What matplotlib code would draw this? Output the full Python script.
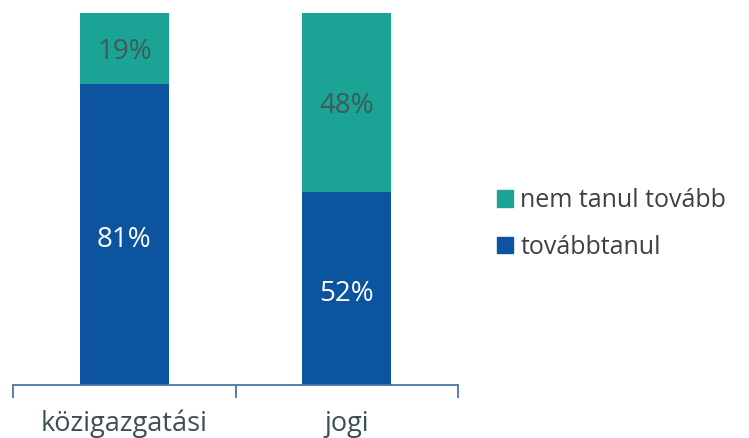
import matplotlib
matplotlib.use("Agg")
import matplotlib.pyplot as plt
from matplotlib.patches import Patch

categories = ["közigazgatási", "jogi"]
tovabbtanul = [81, 52]
nem_tanul = [19, 48]
series_names = ["nem tanul tovább", "továbbtanul"]

plt.rcParams['font.family'] = ['Open Sans', 'DejaVu Sans']
c_blue = "#0c53a0"
c_teal = "#1ba395"

fig = plt.figure(figsize=(7.49, 4.38), dpi=100)
ax = fig.add_axes([13/749, 1 - 385/438, 445/749, 372/438])

x = [0, 1]
w = 0.4
ax.bar(x, tovabbtanul, width=w, color=c_blue)
ax.bar(x, nem_tanul, width=w, bottom=tovabbtanul, color=c_teal)

for xi, a, b in zip(x, tovabbtanul, nem_tanul):
    ax.annotate(f"{a}%", (xi, a / 2), xytext=(0, -6), textcoords="offset pixels",
                ha="center", va="center", color="white", fontsize=20)
    ax.annotate(f"{b}%", (xi, a + b / 2), xytext=(0, -4), textcoords="offset pixels",
                ha="center", va="center", color="#3d5c5a", fontsize=20)

ax.set_xlim(-0.5, 1.5)
ax.set_ylim(0, 100)
for s in ["top", "right", "left"]:
    ax.spines[s].set_visible(False)
ax.spines["bottom"].set_color("#4a74a6")
ax.spines["bottom"].set_linewidth(1.3)
ax.set_yticks([])
ax.set_xticks([-0.5, 0.5, 1.5], minor=False)
ax.set_xticklabels(["", "", ""])
ax.tick_params(axis="x", which="major", length=9, color="#4a74a6", width=1.3, direction="out")
ax.set_xticks(x, minor=True)
ax.set_xticklabels(categories, minor=True)
ax.tick_params(axis="x", which="minor", length=0, pad=18, labelsize=19.5, labelcolor="#3d4f55")

handles = [Patch(color=c_teal), Patch(color=c_blue)]
fig.legend(handles, series_names, loc="center left", bbox_to_anchor=(474/749, 1 - 224/438),
           frameon=False, fontsize=18, handlelength=0.65, handleheight=0.65,
           handletextpad=0.3, labelspacing=0.85, labelcolor="#404040")

fig.savefig("out.png", dpi=100)
